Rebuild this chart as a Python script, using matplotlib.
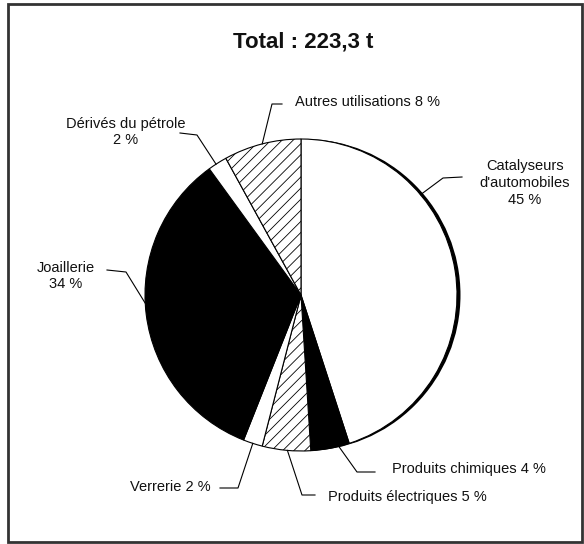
import numpy as np
import matplotlib.pyplot as plt
from matplotlib.patches import Circle, Rectangle

plt.rcParams['font.family'] = ['Liberation Sans', 'DejaVu Sans']
plt.rcParams['hatch.linewidth'] = 0.6

title = 'Total : 223,3 t'
names = ["Catalyseurs\nd'automobiles", 'Produits chimiques', 'Produits électriques',
         'Verrerie', 'Joaillerie', 'Dérivés du pétrole', 'Autres utilisations']
shares = [45, 4, 5, 2, 34, 2, 8]
# put the percentage on its own line for these
own_line = [True, False, False, False, True, True, False]

# fill style of each slice
fills = ['white', 'black', 'hatch', 'white', 'black', 'white', 'hatch']

W, H = 584, 544
cx, cy, r = 301, H - 295, 156

# leader layout in pixels (y from top): edge angle (deg clockwise from top),
# elbow point, line end, text anchor, alignment
layout = [
    (50, (443, 178), (462, 177), (525, 183), 'center'),
    (166, (357, 472), (375, 472), (392, 469), 'left'),
    (185, (302, 495), (315, 495), (328, 497), 'left'),
    (198, (238, 488), (220, 488), (211, 487), 'right'),
    (267, (126, 272), (107, 270), (66, 276), 'center'),
    (327, (197, 135), (180, 133), (126, 132), 'center'),
    (345.6, (272, 104), (282, 104), (295, 102), 'left'),
]

fig = plt.figure(figsize=(W / 100, H / 100), dpi=100)
ax = fig.add_axes([0, 0, 1, 1])

# shadow on the right side of the pie
ax.add_patch(Circle((cx + 3.5, cy), r, facecolor='black', edgecolor='none', zorder=0))

colors = ['black' if f == 'black' else 'white' for f in fills]
wedges, _ = ax.pie(shares, colors=colors, startangle=90, counterclock=False,
                   center=(cx, cy), radius=r, frame=True,
                   wedgeprops=dict(edgecolor='black', linewidth=0.8))
for w, f in zip(wedges, fills):
    w.set_zorder(1)
    if f == 'hatch':
        w.set_hatch('///')

for name, v, nl, (ang, elbow, end, pos, ha) in zip(names, shares, own_line, layout):
    a = np.radians(ang)
    px, py = cx + r * np.sin(a), cy + r * np.cos(a)
    ax.plot([px, elbow[0], end[0]], [py, H - elbow[1], H - end[1]],
            color='black', lw=0.8, zorder=2)
    label = f'{name}\n{v} %' if nl else f'{name} {v} %'
    ax.text(pos[0], H - pos[1], label, ha=ha, va='center', multialignment='center',
            fontsize=10.5, color='#111111', linespacing=1.25)

ax.text(303, H - 42, title, ha='center', va='center', fontsize=16,
        fontweight='bold', color='#111111')

ax.add_patch(Rectangle((8, H - 542), 574, 538, fill=False, edgecolor='#333333', lw=2))

ax.set_xlim(0, W)
ax.set_ylim(0, H)
ax.set_aspect('equal')
ax.axis('off')

fig.savefig('out.png', dpi=100, facecolor='white')
